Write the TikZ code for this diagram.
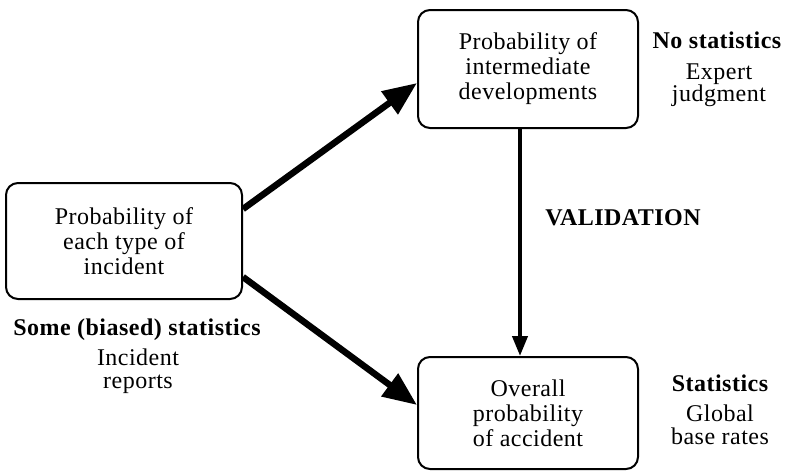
\documentclass[tikz,border=0pt]{standalone}
\usepackage{fontspec}
\setmainfont[LetterSpace=2]{Liberation Serif}
\usetikzlibrary{arrows.meta}
\tikzset{
  box/.style={draw, line width=2pt, rounded corners=12pt, align=center,
    font=\fontsize{24}{25}\selectfont, inner sep=0pt},
  lbl/.style={align=center, font=\fontsize{24}{22.5}\selectfont, inner sep=0pt},
  blbl/.style={align=center, font=\fontsize{24}{24}\selectfont\bfseries, inner sep=0pt},
  bigarrow/.style={line width=6.5pt, -{Triangle[length=34pt,width=27pt]}},
  vertarrow/.style={line width=4pt, -{Triangle[length=20pt,width=15pt]}}
}
\begin{document}
\begin{tikzpicture}[x=1pt,y=-1pt]
\useasboundingbox (0,0) rectangle (788,472);
\node[box, minimum width=220pt, minimum height=118pt] (top) at (528,69)
  {Probability of\\intermediate\\developments};
\node[box, minimum width=236pt, minimum height=116pt] (left) at (124,241)
  {Probability of\\each type of\\incident};
\node[box, minimum width=220pt, minimum height=112pt] (bot) at (528,413)
  {Overall\\probability\\of accident};
\draw[bigarrow] ([yshift=32pt]left.east) -- ([yshift=-14pt]top.west);
\draw[bigarrow] ([yshift=-36pt]left.east) -- ([yshift=8pt]bot.west);
\draw[vertarrow] ([xshift=-8pt]top.south) -- ([xshift=-8pt]bot.north);
\node[blbl] (nostat) at (717,40) {No statistics};
\node[lbl] (expert) at (719,85) {Expert\\judgment};
\node[blbl] (valid) at (623,218) {VALIDATION};
\node[blbl] (some) at (137,330) {Some (biased) statistics};
\node[lbl] (incid) at (138,371) {Incident\\reports};
\node[blbl] (stat) at (720,383) {Statistics};
\node[lbl] (glob) at (720,425) {Global\\base rates};
\end{tikzpicture}
\end{document}
